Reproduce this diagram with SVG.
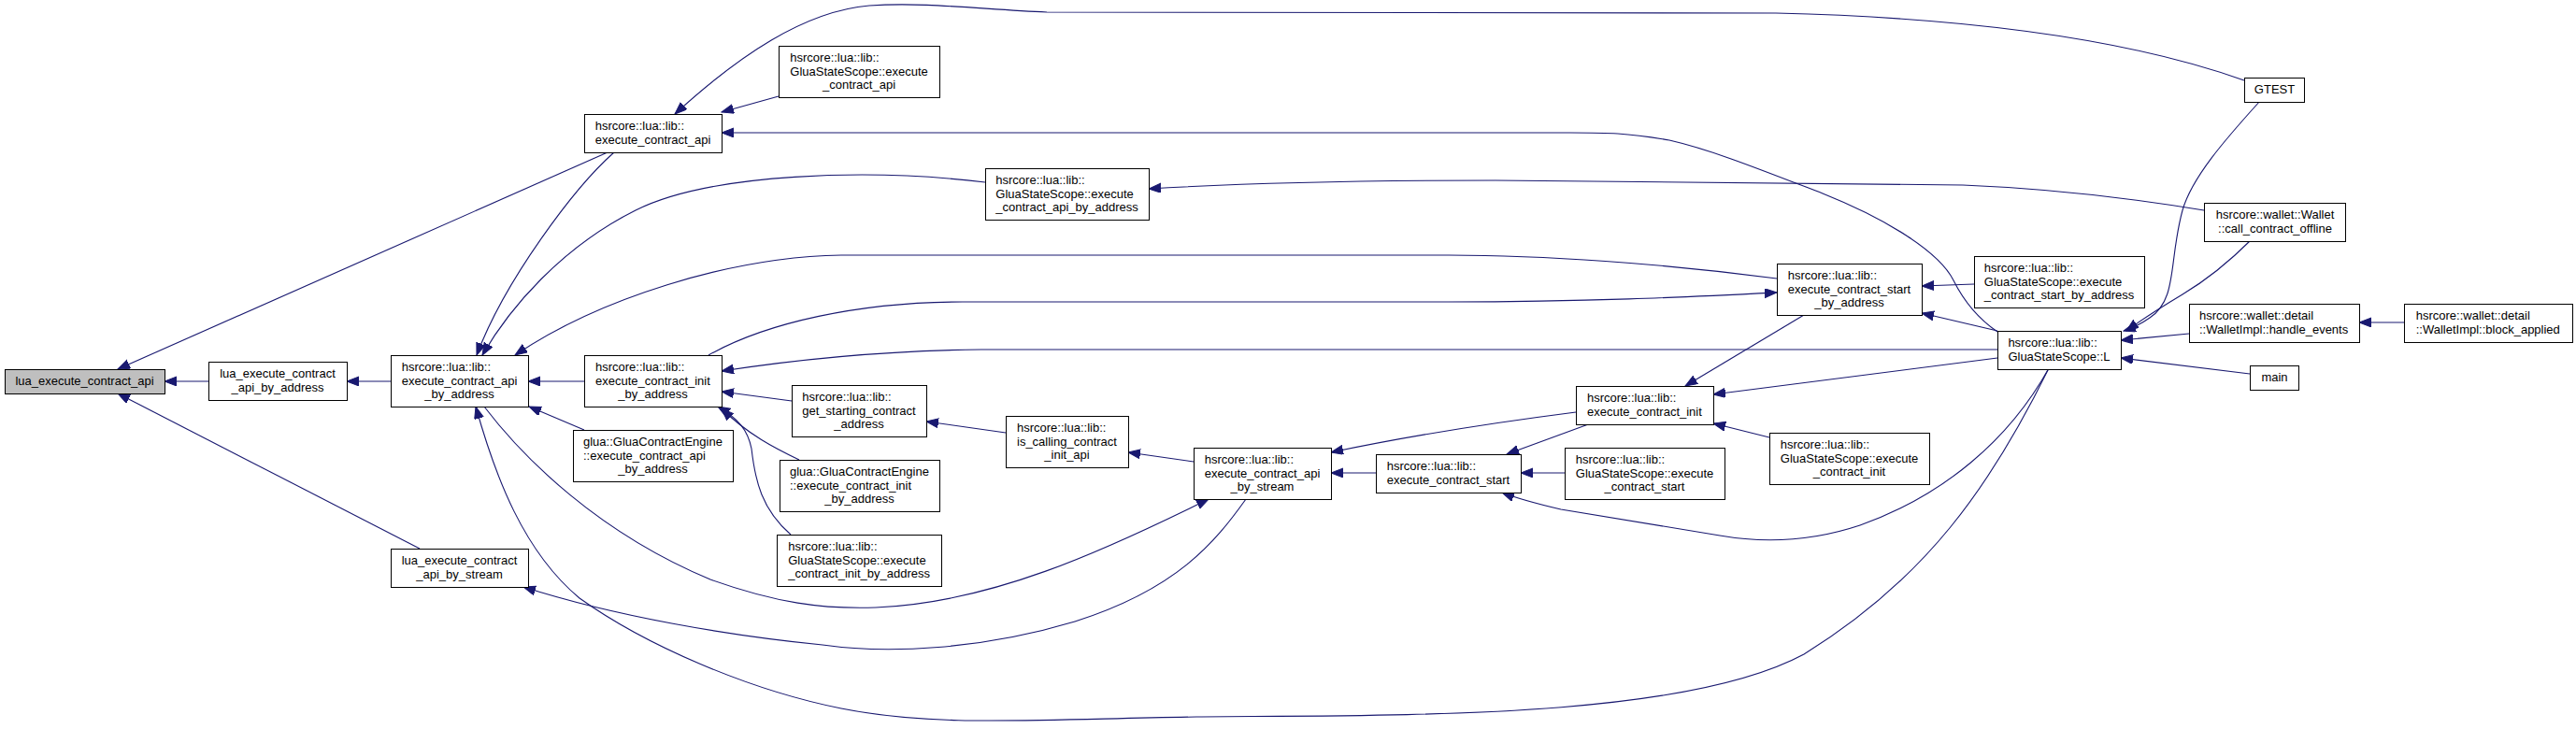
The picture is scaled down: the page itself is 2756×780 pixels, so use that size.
<svg xmlns="http://www.w3.org/2000/svg" width="2756" height="780" viewBox="0 0 2756 780">
<defs>
<marker id="ah" markerUnits="userSpaceOnUse" markerWidth="14" markerHeight="11" refX="13" refY="5" orient="auto">
<path d="M0,0 L13,5 L0,10 z" fill="#191970" stroke="#191970" stroke-width="1"/>
</marker>
</defs>
<style>
.node rect{fill:#ffffff;stroke:#000000;stroke-width:1}
.node.cur rect{fill:#bfbfbf}
text{font-family:"Liberation Sans",Arial,sans-serif;font-size:13px;fill:#000000}
.c{text-anchor:middle}
.edges path{fill:none;stroke:#191970;stroke-width:1.1;marker-end:url(#ah)}
</style>
<rect x="0" y="0" width="2756" height="780" fill="#ffffff"/>
<g class="edges" id="edges">
<path d="M223,408 L176,408"/>
<path d="M650,163 L126,395"/>
<path d="M449,587 L126,421"/>
<path d="M418,408 L371,408"/>
<path d="M657,163 C615,200 540,300 510,380"/>
<path d="M1054,195 C930,180 760,185 680,225 C600,265 545,330 516,380"/>
<path d="M625,408 L565,408"/>
<path d="M625,460 L566,435"/>
<path d="M2192,394 C2130,520 2060,620 1930,700 C1800,770 1500,765 1280,767 C1100,770 1000,778 900,758 C800,738 690,690 620,640 C560,590 530,510 509,435"/>
<path d="M1333,534 C1300,580 1260,630 1150,665 C1050,695 950,700 880,690 C780,680 660,660 560,628"/>
<path d="M518,435 C560,490 640,570 760,620 C830,645 880,652 937,650 C1060,645 1180,590 1293,534"/>
<path d="M833,103 L772,120"/>
<path d="M2401,86 C2300,50 2150,20 1900,14 L1120,13 C1050,10 990,2 930,6 C860,12 790,60 722,122"/>
<path d="M2137,355 C2115,340 2100,320 2090,300 C2075,270 2020,235 1950,207 C1880,180 1830,160 1786,150 C1740,142 1720,142 1680,142 L772,142"/>
<path d="M2137,374 L1050,374 C950,375 850,385 772,397"/>
<path d="M847,429 L772,419"/>
<path d="M855,492 C830,480 800,465 772,437"/>
<path d="M846,572 C815,545 808,515 804,480 C800,460 790,448 768,435"/>
<path d="M758,380 C820,345 920,323 1030,323 L1550,323 C1700,323 1800,318 1901,313"/>
<path d="M1901,298 C1780,282 1650,273 1550,273 L900,273 C780,275 640,320 551,380"/>
<path d="M2358,225 C2280,212 2200,202 2100,198 L1600,193 C1450,193 1330,196 1229,202"/>
<path d="M1076,463 L991,451"/>
<path d="M1277,494 L1207,484"/>
<path d="M1472,506 L1424,506"/>
<path d="M1686,441 C1600,452 1500,468 1424,484"/>
<path d="M1674,506 L1627,506"/>
<path d="M1702,453 L1612,486"/>
<path d="M2192,394 C2150,470 2080,530 1990,562 C1930,582 1880,580 1840,573 L1670,545 C1640,538 1620,532 1607,527"/>
<path d="M1930,337 L1803,413"/>
<path d="M2137,383 L1833,422"/>
<path d="M1893,468 L1833,453"/>
<path d="M2112,304 L2056,306"/>
<path d="M2137,354 L2056,335"/>
<path d="M2418,108 C2380,150 2345,190 2335,225 C2320,280 2330,320 2300,340 C2290,347 2282,351 2272,354"/>
<path d="M2408,257 C2385,280 2360,300 2335,315 C2310,330 2290,343 2275,354"/>
<path d="M2342,357 L2269,364"/>
<path d="M2407,400 L2269,383"/>
<path d="M2572,345 L2524,345"/>
</g>
<g class="node cur" id="n0"><rect x="5.5" y="395.5" width="171" height="26"/><text class="c" x="90.5" y="412">lua_execute_contract_api</text></g>
<g class="node" id="n1"><rect x="223.5" y="387.5" width="148" height="41"/><text class="c" x="297" y="404">lua_execute_contract</text><text class="c" x="297" y="418.5">_api_by_address</text></g>
<g class="node" id="n2"><rect x="418.5" y="380.5" width="147" height="55"/><text x="429.7" y="397">hsrcore::lua::lib::</text><text x="429.7" y="411.5">execute_contract_api</text><text class="c" x="491.5" y="426">_by_address</text></g>
<g class="node" id="n3"><rect x="418.5" y="587.5" width="147" height="41"/><text class="c" x="491.5" y="604">lua_execute_contract</text><text class="c" x="491.5" y="618.5">_api_by_stream</text></g>
<g class="node" id="n4"><rect x="625.5" y="122.5" width="147" height="41"/><text x="636.7" y="139">hsrcore::lua::lib::</text><text x="636.7" y="153.5">execute_contract_api</text></g>
<g class="node" id="n5"><rect x="625.5" y="380.5" width="147" height="55"/><text x="637" y="397">hsrcore::lua::lib::</text><text x="637" y="411.5">execute_contract_init</text><text class="c" x="698.5" y="426">_by_address</text></g>
<g class="node" id="n6"><rect x="613.5" y="460.5" width="171" height="55"/><text x="624" y="477">glua::GluaContractEngine</text><text x="624" y="491.5">::execute_contract_api</text><text class="c" x="698.5" y="506">_by_address</text></g>
<g class="node" id="n7"><rect x="833.5" y="49.5" width="172" height="55"/><text x="845.3" y="66">hsrcore::lua::lib::</text><text x="845.3" y="80.5">GluaStateScope::execute</text><text class="c" x="919" y="95">_contract_api</text></g>
<g class="node" id="n8"><rect x="847.5" y="412.5" width="144" height="55"/><text x="858.3" y="429">hsrcore::lua::lib::</text><text x="858.3" y="443.5">get_starting_contract</text><text class="c" x="919" y="458">_address</text></g>
<g class="node" id="n9"><rect x="834.5" y="492.5" width="171" height="55"/><text x="845" y="509">glua::GluaContractEngine</text><text x="845" y="523.5">::execute_contract_init</text><text class="c" x="919.5" y="538">_by_address</text></g>
<g class="node" id="n10"><rect x="831.5" y="572.5" width="176" height="55"/><text x="843.2" y="589">hsrcore::lua::lib::</text><text x="843.2" y="603.5">GluaStateScope::execute</text><text x="843.2" y="618">_contract_init_by_address</text></g>
<g class="node" id="n11"><rect x="1054.5" y="180.5" width="175" height="55"/><text x="1065.3" y="197">hsrcore::lua::lib::</text><text x="1065.3" y="211.5">GluaStateScope::execute</text><text x="1065.3" y="226">_contract_api_by_address</text></g>
<g class="node" id="n12"><rect x="1076.5" y="445.5" width="131" height="55"/><text x="1088" y="462">hsrcore::lua::lib::</text><text x="1088" y="476.5">is_calling_contract</text><text class="c" x="1141.5" y="491">_init_api</text></g>
<g class="node" id="n13"><rect x="1277.5" y="479.5" width="147" height="55"/><text x="1288.7" y="496">hsrcore::lua::lib::</text><text x="1288.7" y="510.5">execute_contract_api</text><text class="c" x="1350.5" y="525">_by_stream</text></g>
<g class="node" id="n14"><rect x="1472.5" y="486.5" width="155" height="41"/><text x="1483.7" y="503">hsrcore::lua::lib::</text><text x="1483.7" y="517.5">execute_contract_start</text></g>
<g class="node" id="n15"><rect x="1686.5" y="413.5" width="147" height="41"/><text x="1698" y="430">hsrcore::lua::lib::</text><text x="1698" y="444.5">execute_contract_init</text></g>
<g class="node" id="n16"><rect x="1674.5" y="479.5" width="171" height="55"/><text x="1685.8" y="496">hsrcore::lua::lib::</text><text x="1685.8" y="510.5">GluaStateScope::execute</text><text class="c" x="1759.5" y="525">_contract_start</text></g>
<g class="node" id="n17"><rect x="1901.5" y="282.5" width="155" height="55"/><text x="1912.7" y="299">hsrcore::lua::lib::</text><text x="1912.7" y="313.5">execute_contract_start</text><text class="c" x="1978.5" y="328">_by_address</text></g>
<g class="node" id="n18"><rect x="1893.5" y="463.5" width="171" height="55"/><text x="1904.8" y="480">hsrcore::lua::lib::</text><text x="1904.8" y="494.5">GluaStateScope::execute</text><text class="c" x="1978.5" y="509">_contract_init</text></g>
<g class="node" id="n19"><rect x="2112.5" y="274.5" width="182" height="55"/><text x="2122.8" y="291">hsrcore::lua::lib::</text><text x="2122.8" y="305.5">GluaStateScope::execute</text><text x="2122.8" y="320">_contract_start_by_address</text></g>
<g class="node" id="n20"><rect x="2137.5" y="354.5" width="132" height="41"/><text x="2148.4" y="371">hsrcore::lua::lib::</text><text x="2148.4" y="385.5">GluaStateScope::L</text></g>
<g class="node" id="n21"><rect x="2401.5" y="83.5" width="64" height="26"/><text class="c" x="2433.5" y="100">GTEST</text></g>
<g class="node" id="n22"><rect x="2358.5" y="217.5" width="151" height="41"/><text class="c" x="2434" y="234">hsrcore::wallet::Wallet</text><text class="c" x="2434" y="248.5">::call_contract_offline</text></g>
<g class="node" id="n23"><rect x="2342.5" y="325.5" width="182" height="41"/><text x="2353" y="342">hsrcore::wallet::detail</text><text x="2353" y="356.5">::WalletImpl::handle_events</text></g>
<g class="node" id="n24"><rect x="2407.5" y="391.5" width="52" height="26"/><text class="c" x="2433.5" y="408">main</text></g>
<g class="node" id="n25"><rect x="2572.5" y="325.5" width="180" height="41"/><text x="2584.7" y="342">hsrcore::wallet::detail</text><text x="2584.7" y="356.5">::WalletImpl::block_applied</text></g>
</svg>
